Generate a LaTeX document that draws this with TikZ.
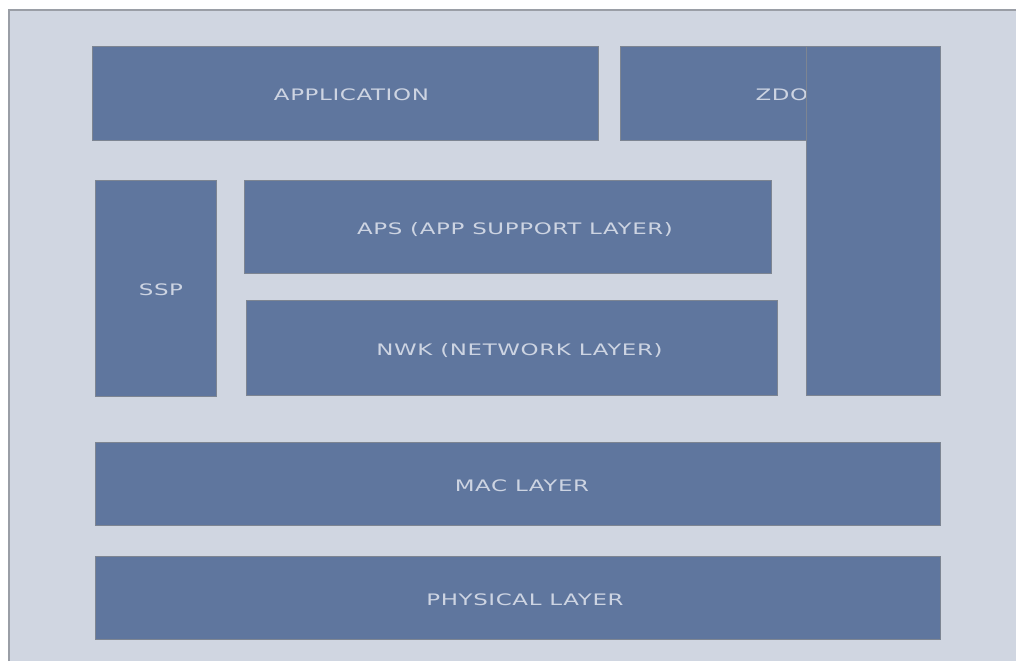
\documentclass[tikz,border=0pt]{standalone}
\usepackage{fontspec}
\setmainfont{DejaVu Sans}
\newfontfamily\layerfont[FakeStretch=1.45,LetterSpace=4]{DejaVu Sans}
\definecolor{panel}{HTML}{D0D6E1}
\definecolor{layer}{HTML}{5F769E}
\definecolor{edge}{HTML}{7D8592}
\definecolor{frameline}{HTML}{9A9EA6}
\definecolor{labeltext}{HTML}{CDD4E2}
\tikzset{
  layerbox/.style={draw=edge, line width=0.9pt, fill=layer, anchor=north west,
    inner sep=0pt, text height=14.5pt, text depth=0pt, text=labeltext,
    font=\layerfont\fontsize{15.8}{18}\selectfont},
}
% [label lead-in] name, x1, y1, x2, y2, label
\newcommand{\layerat}[7][12pt]{%
  \node[layerbox, minimum width={#5-#3}, minimum height={#6-#4}] (#2) at (#3,#4)
    {\hspace*{#1}#7};}
\begin{document}
\begin{tikzpicture}[x=1pt,y=-1pt]
  \useasboundingbox (0,0) rectangle (1016,661);
  % background panel with its left and top rule
  \fill[panel] (9,10) rectangle (1016,661);
  \draw[frameline, line width=1.2pt] (9,661) -- (9,10) -- (1016,10);
  % stack layers
  \layerat{app}{92}{46}{598}{140}{APPLICATION}
  \layerat[3pt]{zdo}{620}{46}{940}{140}{ZDO}
  \layerat[0pt]{zdoside}{806}{46}{940}{395}{}
  \layerat[10pt]{ssp}{95}{180}{216}{396}{SSP}
  \layerat[14pt]{aps}{244}{180}{771}{273}{APS (APP SUPPORT LAYER)}
  \layerat[15pt]{nwk}{246}{300}{777}{395}{NWK (NETWORK LAYER)}
  \layerat[8pt]{mac}{95}{442}{940}{525}{MAC LAYER}
  \layerat[14pt]{phy}{95}{556}{940}{639}{PHYSICAL LAYER}
\end{tikzpicture}
\end{document}
